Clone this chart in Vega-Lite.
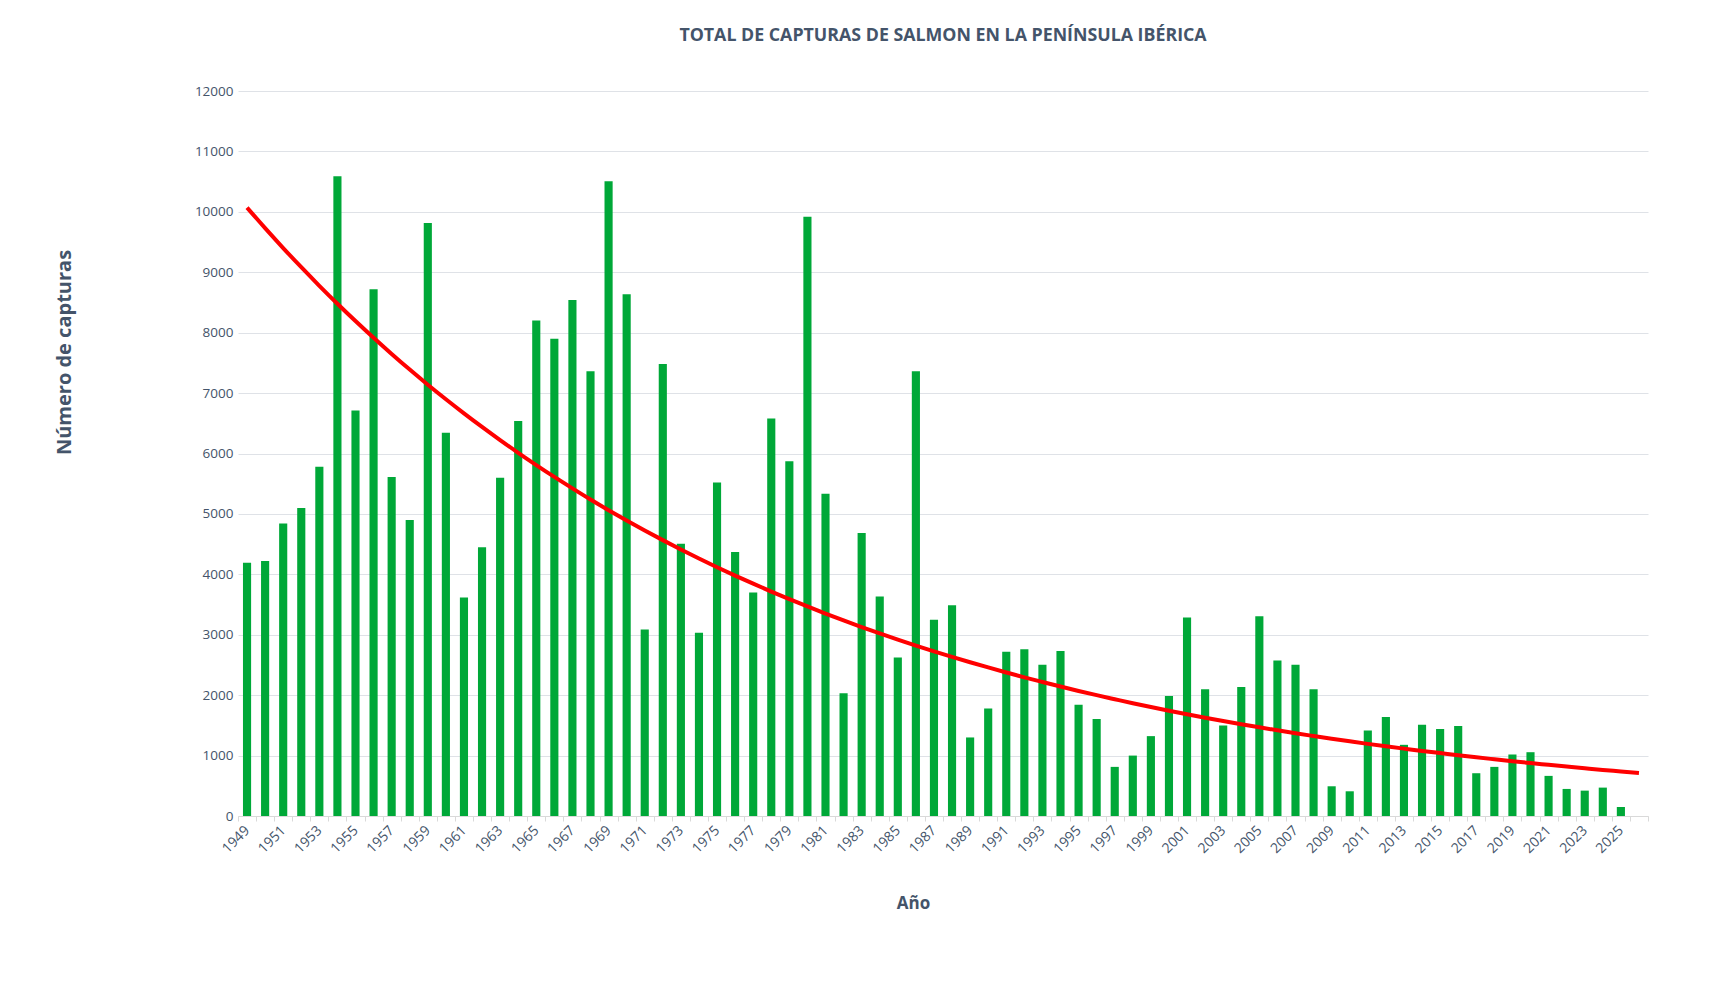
{
  "$schema": "https://vega.github.io/schema/vega-lite/v6.json",
  "autosize": {"type": "none"},
  "padding": {"left": 238, "top": 91, "right": 78, "bottom": 178},
  "width": 1410,
  "height": 725,
  "background": "white",
  "title": {
    "text": "TOTAL DE CAPTURAS DE SALMON EN LA PENÍNSULA IBÉRICA",
    "anchor": "middle",
    "frame": "group",
    "font": "Open Sans",
    "fontSize": 17.8,
    "fontWeight": "bold",
    "color": "#44546A",
    "baseline": "middle",
    "offset": 30
  },
  "config": {
    "view": {"stroke": null},
    "font": "Open Sans"
  },
  "data": {
    "values": [
      {"anio": "1949", "capturas": 4190, "tendencia": 10070},
      {"anio": "1950", "capturas": 4220, "tendencia": 9730},
      {"anio": "1951", "capturas": 4840, "tendencia": 9401},
      {"anio": "1952", "capturas": 5100, "tendencia": 9083},
      {"anio": "1953", "capturas": 5780, "tendencia": 8776},
      {"anio": "1954", "capturas": 10590, "tendencia": 8479},
      {"anio": "1955", "capturas": 6710, "tendencia": 8192},
      {"anio": "1956", "capturas": 8720, "tendencia": 7915},
      {"anio": "1957", "capturas": 5610, "tendencia": 7648},
      {"anio": "1958", "capturas": 4900, "tendencia": 7389},
      {"anio": "1959", "capturas": 9815, "tendencia": 7139},
      {"anio": "1960", "capturas": 6345, "tendencia": 6898},
      {"anio": "1961", "capturas": 3615, "tendencia": 6665},
      {"anio": "1962", "capturas": 4450, "tendencia": 6440},
      {"anio": "1963", "capturas": 5600, "tendencia": 6222},
      {"anio": "1964", "capturas": 6540, "tendencia": 6012},
      {"anio": "1965", "capturas": 8200, "tendencia": 5809},
      {"anio": "1966", "capturas": 7900, "tendencia": 5612},
      {"anio": "1967", "capturas": 8540, "tendencia": 5423},
      {"anio": "1968", "capturas": 7360, "tendencia": 5239},
      {"anio": "1969", "capturas": 10505, "tendencia": 5062},
      {"anio": "1970", "capturas": 8635, "tendencia": 4891},
      {"anio": "1971", "capturas": 3085, "tendencia": 4726},
      {"anio": "1972", "capturas": 7480, "tendencia": 4566},
      {"anio": "1973", "capturas": 4505, "tendencia": 4412},
      {"anio": "1974", "capturas": 3035, "tendencia": 4263},
      {"anio": "1975", "capturas": 5520, "tendencia": 4118},
      {"anio": "1976", "capturas": 4370, "tendencia": 3979},
      {"anio": "1977", "capturas": 3700, "tendencia": 3845},
      {"anio": "1978", "capturas": 6580, "tendencia": 3715},
      {"anio": "1979", "capturas": 5870, "tendencia": 3589},
      {"anio": "1980", "capturas": 9920, "tendencia": 3468},
      {"anio": "1981", "capturas": 5335, "tendencia": 3351},
      {"anio": "1982", "capturas": 2030, "tendencia": 3237},
      {"anio": "1983", "capturas": 4685, "tendencia": 3128},
      {"anio": "1984", "capturas": 3635, "tendencia": 3022},
      {"anio": "1985", "capturas": 2625, "tendencia": 2920},
      {"anio": "1986", "capturas": 7360, "tendencia": 2821},
      {"anio": "1987", "capturas": 3247, "tendencia": 2726},
      {"anio": "1988", "capturas": 3490, "tendencia": 2634},
      {"anio": "1989", "capturas": 1300, "tendencia": 2545},
      {"anio": "1990", "capturas": 1780, "tendencia": 2459},
      {"anio": "1991", "capturas": 2720, "tendencia": 2376},
      {"anio": "1992", "capturas": 2760, "tendencia": 2295},
      {"anio": "1993", "capturas": 2505, "tendencia": 2218},
      {"anio": "1994", "capturas": 2730, "tendencia": 2143},
      {"anio": "1995", "capturas": 1840, "tendencia": 2070},
      {"anio": "1996", "capturas": 1605, "tendencia": 2000},
      {"anio": "1997", "capturas": 813, "tendencia": 1933},
      {"anio": "1998", "capturas": 1000, "tendencia": 1867},
      {"anio": "1999", "capturas": 1322, "tendencia": 1804},
      {"anio": "2000", "capturas": 1985, "tendencia": 1743},
      {"anio": "2001", "capturas": 3285, "tendencia": 1684},
      {"anio": "2002", "capturas": 2096, "tendencia": 1627},
      {"anio": "2003", "capturas": 1500, "tendencia": 1572},
      {"anio": "2004", "capturas": 2135, "tendencia": 1519},
      {"anio": "2005", "capturas": 3307, "tendencia": 1468},
      {"anio": "2006", "capturas": 2572, "tendencia": 1418},
      {"anio": "2007", "capturas": 2505, "tendencia": 1370},
      {"anio": "2008", "capturas": 2100, "tendencia": 1324},
      {"anio": "2009", "capturas": 492, "tendencia": 1279},
      {"anio": "2010", "capturas": 409, "tendencia": 1236},
      {"anio": "2011", "capturas": 1416, "tendencia": 1194},
      {"anio": "2012", "capturas": 1637, "tendencia": 1154},
      {"anio": "2013", "capturas": 1178, "tendencia": 1115},
      {"anio": "2014", "capturas": 1510, "tendencia": 1077},
      {"anio": "2015", "capturas": 1438, "tendencia": 1041},
      {"anio": "2016", "capturas": 1488, "tendencia": 1005},
      {"anio": "2017", "capturas": 708, "tendencia": 971},
      {"anio": "2018", "capturas": 813, "tendencia": 939},
      {"anio": "2019", "capturas": 1018, "tendencia": 907},
      {"anio": "2020", "capturas": 1056, "tendencia": 876},
      {"anio": "2021", "capturas": 664, "tendencia": 847},
      {"anio": "2022", "capturas": 448, "tendencia": 818},
      {"anio": "2023", "capturas": 420, "tendencia": 790},
      {"anio": "2024", "capturas": 470, "tendencia": 763},
      {"anio": "2025", "capturas": 149, "tendencia": 738},
      {"anio": "2026", "capturas": null, "tendencia": 713}
    ]
  },
  "encoding": {
    "x": {
      "field": "anio",
      "type": "ordinal",
      "scale": {"paddingInner": 0, "paddingOuter": 0},
      "axis": {
        "title": "Año",
        "titleFont": "Open Sans",
        "titleFontSize": 17,
        "titleFontWeight": "bold",
        "titleColor": "#44546A",
        "titleX": 675,
        "titleY": 87,
        "titleAlign": "center",
        "titleBaseline": "middle",
        "labelAngle": -45,
        "labelAlign": "right",
        "labelBaseline": "middle",
        "labelFontSize": 14,
        "labelColor": "#44546A",
        "labelPadding": 7,
        "labelOverlap": false,
        "labelExpr": "toNumber(datum.value) % 2 == 1 ? datum.value : ''",
        "tickBand": "extent",
        "tickSize": 5,
        "tickColor": "#D9D9D9",
        "domainColor": "#D9D9D9",
        "grid": false
      }
    }
  },
  "layer": [
    {
      "mark": {"type": "bar", "color": "#00A838", "width": {"band": 0.45}},
      "encoding": {
        "y": {
          "field": "capturas",
          "type": "quantitative",
          "scale": {"domain": [0, 12000], "nice": false},
          "axis": {
            "title": "Número de capturas",
            "titleFont": "Open Sans",
            "titleFontSize": 20,
            "titleFontWeight": "bold",
            "titleColor": "#44546A",
            "titleX": -164,
            "titleY": 261,
            "titleAngle": -90,
            "titleAlign": "center",
            "titleBaseline": "bottom",
            "values": [0, 1000, 2000, 3000, 4000, 5000, 6000, 7000, 8000, 9000, 10000, 11000, 12000],
            "format": "d",
            "labelFontSize": 13.5,
            "labelColor": "#44546A",
            "labelPadding": 5,
            "ticks": false,
            "domain": false,
            "grid": true,
            "gridColor": "#DFE2E7",
            "gridWidth": 1
          }
        }
      }
    },
    {
      "mark": {"type": "line", "color": "#FF0000", "strokeWidth": 4, "interpolate": "monotone"},
      "encoding": {
        "y": {"field": "tendencia", "type": "quantitative"}
      }
    }
  ]
}
